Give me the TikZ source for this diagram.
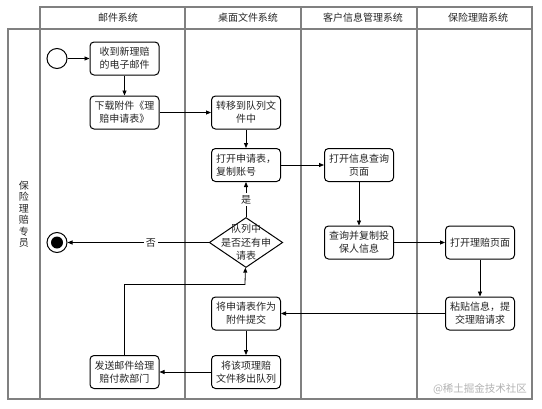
\documentclass[tikz,border=0pt]{standalone}
\usepackage{fontspec}
\setmainfont{Noto Sans CJK SC}
\usetikzlibrary{arrows.meta, positioning, shapes.geometric}
\tikzset{
  lane/.style ={draw=black!50, line width=1.6pt},
  hd/.style   ={font=\fontsize{10}{12}\selectfont, text=black!85},
  act/.style  ={draw, rounded corners=4pt, minimum width=69pt, minimum height=33pt, inner sep=1pt, align=center, fill=white, line width=1pt, font=\fontsize{10}{13}\selectfont, text=black!85},
  dec/.style  ={draw, diamond, minimum width=73.5pt, minimum height=50pt, inner sep=0pt, line width=1pt},
  dtxt/.style ={align=center, font=\fontsize{10}{13.5}\selectfont, text=black!85},
  init/.style ={draw, circle, minimum size=20pt, inner sep=0pt, line width=1pt},
  fin/.style  ={draw, circle, minimum size=20pt, inner sep=0pt, line width=1pt, path picture={\fill (path picture bounding box.center) circle (6pt);}},
  flow/.style ={-{Triangle[length=5pt, width=4pt]}, line width=0.8pt},
  lbl/.style  ={fill=white, inner sep=2pt, font=\fontsize{10}{12}\selectfont, text=black!85},
}
\begin{document}
\begin{tikzpicture}[x=1pt, y=1pt]
  \useasboundingbox (0,0) rectangle (542,-408);
  \draw[lane] (8,-29) rectangle (532,-399);
  \draw[lane] (40,-7) rectangle (532,-399);
  \draw[lane] (40,-29) -- (532,-29);
  \foreach \x in {185,301,417} \draw[lane] (\x,-7) -- (\x,-399);
  \node[hd] (h1) at (118,-18) {邮件系统};
  \node[hd] (h2) at (248,-18) {桌面文件系统};
  \node[hd] (h3) at (363,-18) {客户信息管理系统};
  \node[hd] (h4) at (478,-18) {保险理赔系统};
  \node[hd, align=center, font=\fontsize{10}{11.5}\selectfont] (who) at (24,-214) {保\\险\\理\\赔\\专\\员};
  \node[text=black!30, font=\fontsize{10.5}{12}\selectfont] (wm) at (480,-389) {@稀土掘金技术社区};

  \node[init] (st) at (57,-58.5) {};
  \node[act] (n1) at (124.5,-58.5) {收到新理赔\\的电子邮件};
  \node[act, below=20pt of n1] (n2) {下载附件《理\\赔申请表》};
  \node[act, right=51.5pt of n2] (n3) {转移到队列文\\件中};
  \node[act, below=18.5pt of n3, align=left] (n4) {打开申请表，\\复制账号};
  \node[act, right=43pt of n4] (n5) {打开信息查询\\页面};
  \node[act, below=43.5pt of n5] (n6) {查询并复制投\\保人信息};
  \node[act, right=51pt of n6] (n7) {打开理赔页面};
  \node[act, below=37pt of n7] (n8) {粘贴信息，提\\交理赔请求};
  \node[dec] (q) at (n4 |- n6) {};
  \node[dtxt] (qt) at (q) {队列中\\是否还有申\\请表};
  \node[fin] (en) at (st |- q) {};
  \node[act] (n9) at (n4 |- n8) {将申请表作为\\附件提交};
  \node[act, below=24.5pt of n9] (n10) {将该项理赔\\文件移出队列};
  \node[act] (n11) at (n2 |- n10) {发送邮件给理\\赔付款部门};
  \coordinate (lp) at (245,-284.5);

  \draw[flow] (st) -- (n1); \draw[flow] (n1) -- (n2);
  \draw[flow] (n2) -- (n3); \draw[flow] (n3) -- (n4);
  \draw[flow] (n4) -- (n5); \draw[flow] (n5) -- (n6);
  \draw[flow] (n6) -- (n7); \draw[flow] (n7) -- (n8);
  \draw[flow] (n8) -- (n9); \draw[flow] (n9) -- (n10);
  \draw[flow] (n10) -- (n11);
  \draw[flow] (n11) |- (lp) -- (q);
  \draw[flow] (q) -- node[lbl] {是} (n4);
  \draw[flow] (q) -- node[lbl, pos=0.41] {否} (en);
\end{tikzpicture}
\end{document}
